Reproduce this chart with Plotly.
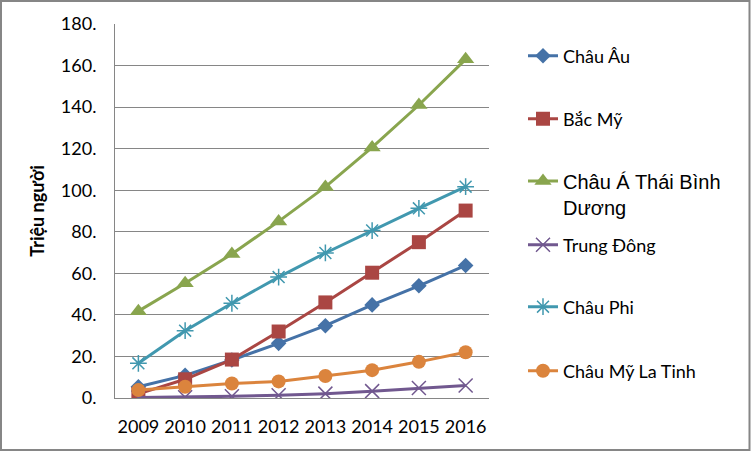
import plotly.graph_objects as go

years = ["2009", "2010", "2011", "2012", "2013", "2014", "2015", "2016"]
chau_au = [5.4, 10.9, 18.3, 26.3, 34.8, 44.8, 54.0, 63.8]
bac_my = [2.0, 9.0, 18.5, 32.0, 46.0, 60.3, 75.0, 90.2]
chau_a = [41.8, 55.2, 69.3, 85.0, 101.6, 120.6, 141.0, 163.0]
trung_dong = [0.2, 0.4, 0.8, 1.3, 2.1, 3.3, 4.8, 6.0]
chau_phi = [16.7, 32.4, 45.6, 58.2, 69.8, 80.6, 91.3, 101.7]
chau_my_la_tinh = [3.8, 5.4, 7.0, 8.0, 10.6, 13.4, 17.4, 22.0]

series_names = ["Châu Âu", "Bắc Mỹ", "Châu Á Thái Bình<br>Dương", "Trung Đông", "Châu Phi", "Châu Mỹ La Tinh"]
y_tick_vals = [0, 20, 40, 60, 80, 100, 120, 140, 160, 180]
y_tick_text = ["0.", "20.", "40.", "60.", "80.", "100.", "120.", "140.", "160.", "180."]

W, H = 752, 452
ML, MR, MT, MB = 115, 263, 24, 54
PW, PH = W - ML - MR, H - MT - MB

FONT = "Lato"
FS = 18

styles = [
    dict(color="#4572A7", symbol="diamond", size=12, lw=0),
    dict(color="#AA4643", symbol="square", size=14, lw=0),
    dict(color="#89A54E", symbol="triangle-up", size=15, lw=0),
    dict(color="#71588F", symbol="x-thin-open", size=14, lw=1.5),
    dict(color="#4198AF", symbol="asterisk-open", size=14, lw=1.5),
    dict(color="#DB843D", symbol="circle", size=14, lw=0),
]
data = [chau_au, bac_my, chau_a, trung_dong, chau_phi, chau_my_la_tinh]
legend_px_y = [56, 119, 194, 245, 307, 371]

fig = go.Figure()
layout_legends = {}
for i, (name, vals, st, py) in enumerate(zip(series_names, data, styles, legend_px_y)):
    lname = "legend" if i == 0 else f"legend{i+1}"
    fig.add_trace(go.Scatter(
        x=years, y=vals, name=name, mode="lines+markers",
        line=dict(color=st["color"], width=3),
        marker=dict(symbol=st["symbol"], size=st["size"], color=st["color"],
                    line=dict(color=st["color"], width=st["lw"])),
        legend=lname,
    ))
    font = dict(family="Liberation Sans" if i == 2 else FONT, size=20 if i == 2 else FS, color="black")
    layout_legends[lname] = dict(
        x=(523 - ML) / PW, xanchor="left",
        y=(H - MB - py) / PH, yanchor="middle",
        font=font, bgcolor="rgba(0,0,0,0)", valign="top",
        borderwidth=0, tracegroupgap=0,
    )

fig.update_layout(
    width=W, height=H,
    margin=dict(l=ML, r=MR, t=MT, b=MB),
    paper_bgcolor="white", plot_bgcolor="white",
    font=dict(family=FONT, size=FS, color="black"),
    showlegend=True,
    **layout_legends,
)
fig.update_xaxes(
    type="category", range=[-0.5, 7.5],
    showline=True, linecolor="#868686", linewidth=1,
    showgrid=False, ticks="", ticklabelstandoff=12,
    tickfont=dict(family=FONT, size=FS, color="black"),
)
fig.update_yaxes(
    range=[0, 180], tickvals=y_tick_vals, ticktext=y_tick_text,
    showline=True, linecolor="#868686", linewidth=1,
    showgrid=True, gridcolor="#868686", gridwidth=1, zeroline=False,
    ticks="", ticklabelstandoff=14,
    tickfont=dict(family=FONT, size=FS, color="black"),
    title=dict(text="<b>Triệu người</b>", font=dict(family=FONT, size=FS, color="black"), standoff=11),
)
fig.add_shape(
    type="rect", xref="paper", yref="paper",
    x0=(1 - ML) / PW, x1=(749.5 - ML) / PW,
    y0=(H - MB - 450) / PH, y1=(H - MB - 1) / PH,
    line=dict(color="#868686", width=2), fillcolor="rgba(0,0,0,0)", layer="below",
)
fig.write_html(
    "out.html",
    config={"displayModeBar": False},
    post_script="document.body.style.margin='0px';document.body.style.padding='0px';",
)
